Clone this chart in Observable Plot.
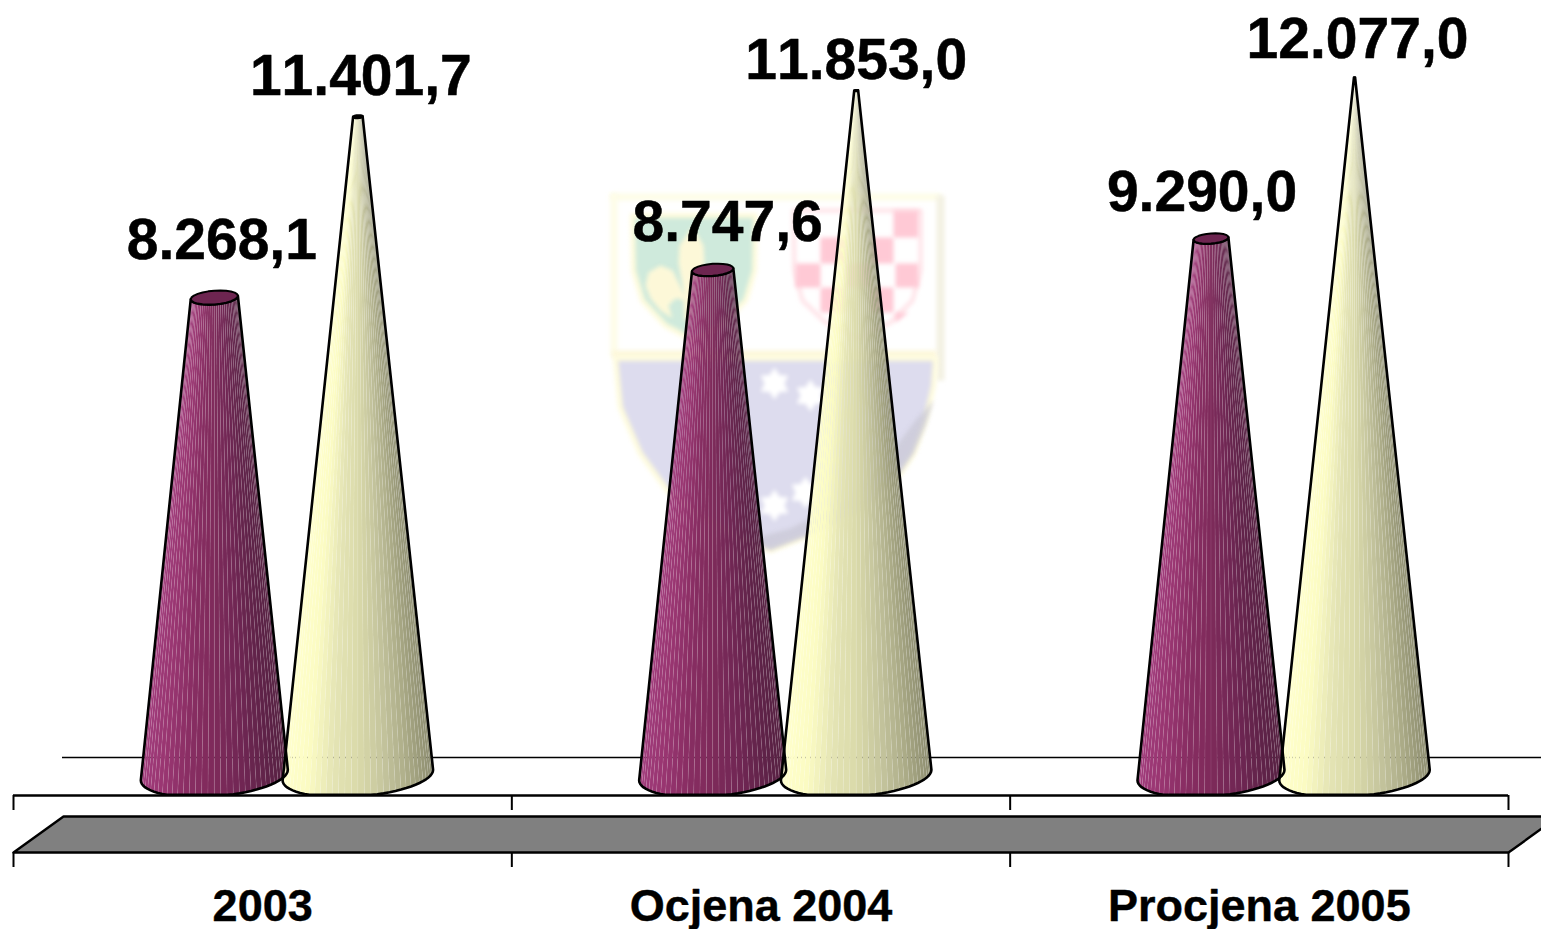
<!DOCTYPE html>
<html>
<head>
<meta charset="utf-8">
<style>
html,body{margin:0;padding:0;background:#fff;overflow:hidden}
svg{display:block;font-kerning:none}
svg text{font-kerning:none}
.wm{filter:blur(2px)}
</style>
<script src="https://cdn.jsdelivr.net/npm/d3@7"></script>
<script src="https://cdn.jsdelivr.net/npm/@observablehq/plot@0.6"></script>
</head>
<body>
<script>
// ---- data ----
const categories = ["2003", "Ocjena 2004", "Procjena 2005"];
const seriesA = [8268.1, 8747.6, 9290.0];
const seriesB = [11401.7, 11853.0, 12077.0];

// ---- label nudges, in scale units (x: categories, y: value) ----
const nudgeAx = [0.015, 0.03, -0.018];
const nudgeAy = [675, 500, 470];
const nudgeBx = [0.006, 0, 0.006];
const nudgeBy = [365, 190, 330];

// ---- chart geometry ----
const W = 1541, H = 929;
const catPx = 498.33, x0Px = 13;            // one category, first tick
const y0Px = 774.6, valPx = 0.05776;        // value zero, pixels per unit
const apex = 12170;                         // value at which a cone closes
const offsets = [0.403, 0.691];
const radii = [0.1475, 0.151];
const ellB = 370, ellTilt = 92, floorV = -340, facets = 36;

const X = px => (px - x0Px) / catPx;
const Y = py => (y0Px - py) / valPx;
const xDomain = [X(0), X(W)];
const yDomain = [Y(H), Y(0)];

const fmt = d3.formatLocale({decimal: ",", thousands: ".", grouping: [3]}).format(",.1f");

const ramps = [
  d3.piecewise(d3.interpolateRgb, ["#a03a7a", "#983570", "#872d62", "#7e2a5a", "#722755", "#62234a", "#552041"]),
  d3.piecewise(d3.interpolateRgb, ["#ffffcc", "#fbfbc2", "#e4e4b4", "#dadaaa", "#c6c69e", "#acac88", "#8c8c6e"])
];
const topFill = ["#6d2550", "#000"];

function pt(cx, R, v, th) {
  const k = 1 - v / apex;
  const r = R * k;
  return {
    x: cx + r * Math.sin(th),
    y: Math.max(floorV, v - k * (ellB * Math.cos(th) - ellTilt * Math.sin(th)))
  };
}

const facetRows = [], outlineRows = [], topRows = [], seamRows = [];
[seriesA, seriesB].forEach((vals, s) => {
  vals.forEach((v, i) => {
    const cx = i + offsets[s], R = radii[s], id = `${s}-${i}`;
    const step = Math.PI / facets;
    for (let f = 0; f < facets; f++) {
      const a = -Math.PI / 2 + f * step, b = a + step;
      const color = ramps[s]((Math.sin((a + b) / 2) + 1) / 2);
      [pt(cx, R, 0, a), pt(cx, R, 0, b), pt(cx, R, v, b), pt(cx, R, v, a)]
        .forEach(p => facetRows.push({...p, id: `${id}-${f}`, color}));
      if (f) [pt(cx, R, 0, a), pt(cx, R, v, a)].forEach(p => seamRows.push({...p, id: `${id}-${f}`}));
    }
    for (let f = 0; f <= facets; f++) outlineRows.push({...pt(cx, R, v, -Math.PI / 2 + f * step), id});
    for (let f = 0; f <= facets; f++) outlineRows.push({...pt(cx, R, 0, Math.PI / 2 - f * step), id});
    for (let f = 0; f < 24; f++) {
      const p = pt(cx, R, v, f * Math.PI / 12);
      topRows.push({...p, id, color: topFill[s]});
    }
  });
});

// ---- faded coat of arms behind the chart (decoration, in picture pixels) ----
const wm = (pts, fill, extra = {}) => Plot.line(pts.map(([a, b]) => ({x: X(a), y: Y(b)})),
  {x: "x", y: "y", curve: "linear-closed", fill, stroke: extra.stroke || "none",
   strokeWidth: extra.width || 0, strokeLinejoin: "round", fillOpacity: extra.opacity ?? 1, className: "wm"});
const box = (a, b, c, d) => [[a, b], [c, b], [c, d], [a, d]];
const star = (cx, cy, r) => d3.range(12).map(k => {
  const q = k % 2 ? r * 0.62 : r, t = k * Math.PI / 6;
  return [cx + q * Math.sin(t), cy - q * Math.cos(t)];
});
const lowerShield = [[615,358],[935,358],[933,385],[925,420],[913,453],[900,472],[880,495],[850,518],[803,537],[770,550],[735,535],[700,515],[667,490],[640,453],[620,407]];
const lowerShade = [[933,400],[925,425],[913,453],[900,472],[880,495],[850,518],[803,537],[770,550],[745,540],[790,528],[845,500],[885,460],[915,420]];
const greenShield = [[632,215],[755,215],[754,270],[745,300],[720,325],[693,340],[665,325],[642,300],[633,270]];
const redShield = [[793,210],[920,210],[920,270],[912,300],[890,322],[857,338],[825,322],[802,300],[794,270]];
const fleurStem = [[692,226],[703,245],[704,262],[694,285],[690,320],[684,320],[682,285],[678,262],[679,245]];
const fleurLeft = [[648,272],[660,265],[672,270],[682,290],[688,300],[675,298],[668,305],[672,318],[660,310],[650,298],[645,285]];
const pinkCells = [box(893,210,918,237), box(820,237,845,263), box(870,237,893,263), box(845,263,870,287),
  box(795,263,820,287), box(895,263,918,287), box(820,287,845,312), box(870,287,893,312)];
const pinkCorner = [[895,312],[908,312],[895,322]];

const watermark = [
  wm(box(610,193,940,200), "#fefde8"),
  wm(box(610,193,617,356), "#fefde8"),
  wm(box(936,195,944,380), "#f3f1e2"),
  wm(box(612,350,936,358), "#fdf8da"),
  wm(lowerShield, "#dddcee", {stroke: "#fefbdc", width: 5}),
  wm(lowerShade, "#c9c8d6", {opacity: 0.75}),
  ...[[774,383],[810,395],[774,505],[805,492]].map(([a, b]) => wm(star(a, b, 16), "#fff")),
  wm(greenShield, "#cfeadc", {stroke: "#fefbdc", width: 5}),
  wm(fleurStem, "#fdf8d8"),
  wm(fleurLeft, "#fdf8d8"),
  wm(redShield, "#fff", {stroke: "#ffe2e7", width: 4}),
  ...pinkCells.map(c => wm(c, "#ffc9d5")),
  wm(pinkCorner, "#ffc9d5")
];

// ---- floor levels, in value units ----
const backV = Y(757), axisV = Y(795), tickV = Y(810), platTopV = Y(816), platBotV = Y(852), tick2V = Y(867);
const platform = [[X(13), platBotV], [X(63), platTopV], [X(1558), platTopV], [X(1508), platBotV]]
  .map(([x, y]) => ({x, y}));
const ticks = d3.range(categories.length + 1);

const cats = categories.map((name, i) => ({name, x: i + 0.5, y: Y(920)}));
const labels = [
  ...seriesA.map((v, i) => ({x: i + offsets[0] + nudgeAx[i], y: v + nudgeAy[i], t: fmt(v)})),
  ...seriesB.map((v, i) => ({x: i + offsets[1] + nudgeBx[i], y: v + nudgeBy[i], t: fmt(v)}))
];

const chart = Plot.plot({
  width: W, height: H,
  margin: 0,
  x: {domain: xDomain, axis: null},
  y: {domain: yDomain, axis: null},
  color: {type: "identity"},
  style: {background: "#fff", overflow: "hidden"},
  marks: [
    ...watermark,
    Plot.ruleY([backV], {x1: X(62), x2: X(W), stroke: "#000", strokeWidth: 1.6}),
    Plot.line(platform, {x: "x", y: "y", curve: "linear-closed", fill: "#808080", stroke: "#000", strokeWidth: 2.4}),
    Plot.ruleY([axisV], {x1: 0, x2: categories.length, stroke: "#000", strokeWidth: 2.4}),
    Plot.ruleX(ticks, {y1: axisV, y2: tickV, stroke: "#000", strokeWidth: 2}),
    Plot.ruleX(ticks, {y1: platBotV, y2: tick2V, stroke: "#000", strokeWidth: 2}),
    Plot.line(facetRows, {x: "x", y: "y", z: "id", fill: "color", curve: "linear-closed"}),
    Plot.line(seamRows, {x: "x", y: "y", z: "id", stroke: "#fff", strokeOpacity: 0.13, strokeWidth: 0.7}),
    Plot.line(outlineRows, {x: "x", y: "y", z: "id", curve: "linear-closed", stroke: "#000", strokeWidth: 2.6, strokeLinejoin: "round"}),
    Plot.line(topRows, {x: "x", y: "y", z: "id", fill: "color", curve: "linear-closed", stroke: "#000", strokeWidth: 2, strokeLinejoin: "round"}),
    Plot.text(labels, {x: "x", y: "y", text: "t", textAnchor: "middle", lineAnchor: "bottom",
      fontFamily: "'Liberation Sans', Arial, sans-serif", fontWeight: "bold", fontSize: 57, fill: "#000", stroke: "#000", strokeWidth: 0.5}),
    Plot.text(cats, {x: "x", y: "y", text: "name", textAnchor: "middle", lineAnchor: "bottom",
      fontFamily: "'Liberation Sans', Arial, sans-serif", fontWeight: "bold", fontSize: 45, fill: "#000", stroke: "#000", strokeWidth: 0.4})
  ]
});
document.body.appendChild(chart);
</script>
</body>
</html>
